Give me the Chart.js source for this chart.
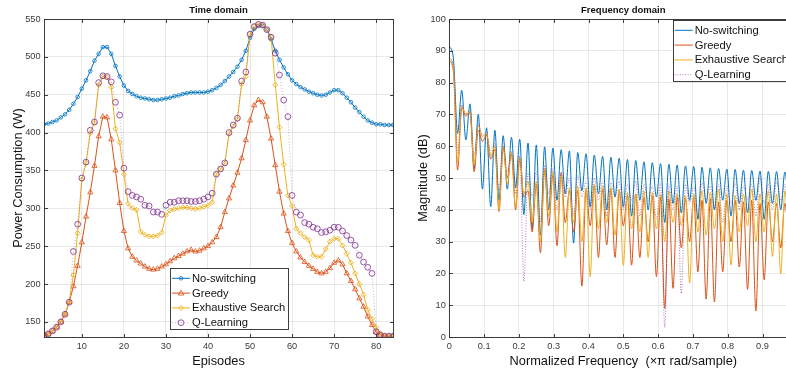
<!DOCTYPE html>
<html>
<head>
<meta charset="utf-8">
<script src="https://cdn.jsdelivr.net/npm/chart.js@4.4.1/dist/chart.umd.min.js"></script>
<style>
html,body{margin:0;padding:0;background:#fff;overflow:hidden;width:786px;height:373px;}
#wrap{position:relative;width:786px;height:373px;overflow:hidden;background:#fff;}
canvas{position:absolute;top:0;}
#c1{left:0;}
#c2{left:390px;}
</style>
</head>
<body>
<div id="wrap">
<canvas id="c1" width="400" height="373"></canvas>
<canvas id="c2" width="415" height="373"></canvas>
</div>
<script>
// ---------- Time domain data ----------
const episodes = [1,2,3,4,5,6,7,8,9,10,11,12,13,14,15,16,17,18,19,20,21,22,23,24,25,26,27,28,29,30,31,32,33,34,35,36,37,38,39,40,41,42,43,44,45,46,47,48,49,50,51,52,53,54,55,56,57,58,59,60,61,62,63,64,65,66,67,68,69,70,71,72,73,74,75,76,77,78,79,80,81,82,83,84];
const noSwitching = [411,412,414,416,420,424,430,438,447,458,
  469,481,495,504,513,513,504,488,474,462,
  455,451,448,446,445,444,443,443,444,445,
  446,448,449,451,452,453,453,453,453,454,
  456,459,463,468,474,480,487,496,508,525,
  537,541,541,536,523,508,496,486,477,469,
  464,460,457,454,452,450,449,450,453,456,
  456,452,446,440,433,427,421,416,413,411,
  411,410,410,410];
const greedy = [132,134,138,143,150,160,176,197,224,255,
  289,321,356,395,421,420,391,350,307,270,
  247,236,231,227,223,220,219,220,223,226,
  230,234,237,240,243,245,243,244,247,250,
  255,262,275,295,313,330,347,366,390,416,
  436,443,440,421,392,357,322,293,270,254,
  243,235,229,224,220,216,214,216,221,228,
  231,226,214,204,193,181,170,157,146,136,
  133,131,131,131];
const exhaustive = [132,134,138,143,150,160,176,212,267,338,
  360,399,413,463,474,473,460,405,387,345,
  306,300,298,269,265,263,263,264,268,291,
  297,299,300,301,301,300,299,300,302,304,
  308,345,352,359,398,408,418,464,474,530,
  540,543,542,536,526,463,407,358,317,303,
  273,267,262,258,238,236,236,246,256,260,
  260,251,240,228,214,200,186,166,154,143,
  135,132,131,131];
const qLearning = [132,134,138,143,150,160,176,243,279,340,
  361,403,414,466,475,474,467,440,423,353,
  322,317,315,312,304,303,295,295,292,304,
  308,308,310,310,310,309,309,310,312,315,
  320,345,352,360,400,410,419,468,480,530,
  540,543,542,536,526,505,476,443,421,317,
  295,291,281,279,275,273,268,269,271,275,
  275,270,264,258,251,238,229,222,214,137,
  132,131,131,131];
const episodeTicks = [10,20,30,40,50,60,70,80];
const powerTicks = [150,200,250,300,350,400,450,500,550];

// ---------- Frequency domain data ----------
const normFreq = [0,0.0119,0.0238,0.0357,0.0476,0.0595,0.0714,0.0833,0.0952,0.1071,
  0.1190,0.1310,0.1429,0.1548,0.1667,0.1786,0.1905,0.2024,0.2143,0.2262,
  0.2381,0.25,0.2619,0.2738,0.2857,0.2976,0.3095,0.3214,0.3333,0.3452,
  0.3571,0.3690,0.3810,0.3929,0.4048,0.4167,0.4286,0.4405,0.4524,0.4643,
  0.4762,0.4881,0.5,0.5119,0.5238,0.5357,0.5476,0.5595,0.5714,0.5833,
  0.5952,0.6071,0.6190,0.6310,0.6429,0.6548,0.6667,0.6786,0.6905,0.7024,
  0.7143,0.7262,0.7381,0.75,0.7619,0.7738,0.7857,0.7976,0.8095,0.8214,
  0.8333,0.8452,0.8571,0.8690,0.8810,0.8929,0.9048,0.9167,0.9286,0.9405,
  0.9524,0.9643,0.9762,0.9881,1];
const magNoSwitching = [91.5,87.5,64,77.6,62,73.3,53,70,46.5,65.8,
  41,65,43,63.3,46.5,62.8,47,62.2,38.5,61,
  34,60.4,32,59.8,40,59.4,43,58.9,45,58.5,
  29.5,58,46,57.6,41,57.2,45,56.8,40,56.5,
  44,56.2,41,55.8,38,55.5,43,55.1,40,54.8,
  44,54.5,36,54.3,42,54.1,39,53.8,43,53.6,
  37,53.4,42,53.2,40,53.0,43,52.8,38,52.7,
  42,52.5,39,52.4,43,52.2,37,52.1,42,52.0,
  40,51.9,43,51.8,41];
const magGreedy = [87,83.5,52.5,72,69.5,70.5,52,65,61.5,63.5,
  56,59,39.5,59.5,50,57.5,40,56,44,46,
  33,48,26.5,52.5,35,51,28.7,51.5,36,46,
  33,46,16,46.5,35,47.5,25,46.5,29,46.5,
  25,46,35,44.5,22.6,45,25,44,30,44.5,
  19,44,9,43.5,15.3,44,28,43.5,30,44,
  20.5,43,11.9,43.5,11,42.5,20.5,43,30,43,
  22,42.5,15,43,8.2,42,18,42.5,30,42,
  28,42,33,41.5,30];
const magExhaustive = [88,84,55,72.5,70,71,54,66.5,63,64,
  57,60,40,60,48,58,41,56.5,45,49,
  36,49,30,53,38,52,33,51,25,47,
  36,47.5,30,47,19,48,34,47.5,36,47,
  32,46.5,22.5,45.5,34,45,33,46,25,45.5,
  34,45,30,46,36,45,35,44.5,17,45,
  33,46,32,45.5,34,46.5,30,45,22.6,44.5,
  33,45,35,46.5,30,45,33,46,25.3,45,
  19.8,46,33,45,30];
const magQLearning = [88,84.5,58,73,70,71.5,57,67,63.5,64,
  58,61,46,60,52,58.5,45,57,17.5,52,
  44,52,36,54,45,53,40,52,44,50,
  38,51,44,49,40,50,43,49,38,48.5,
  44,49,40,48,43,49,38,48,43,47.5,
  37,48.5,3,48,40,47.5,13.7,48,42,47.5,
  38,48.5,43,47.5,40,48,36,47.5,42,48.5,
  40,47.5,43,48,38,50,42,48,40,49,
  43,48,40,47.5,42];
const freqTicks = [0,0.1,0.2,0.3,0.4,0.5,0.6,0.7,0.8,0.9,1];
const dbTicks = [0,10,20,30,40,50,60,70,80,90,100];
const seriesNames = ['No-switching','Greedy','Exhaustive Search','Q-Learning'];

// ---------- styling ----------
Chart.defaults.font.family = '"Liberation Sans", Arial, Helvetica, sans-serif';
Chart.defaults.color = '#262626';
const COL = {blue:'#0072BD', orange:'#D95319', yellow:'#EDB120', purple:'#7E2F8E'};
const GRID = 'rgba(0,0,0,0.085)';
const TICKCOL = '#3a3a3a';

function xy(xs, ys){ return xs.map((x,i)=>({x:x, y:ys[i]})); }

function drawMarker(ctx, style, r, x, y){
  ctx.beginPath();
  if (style === 'triangle'){
    ctx.moveTo(x, y - r);
    ctx.lineTo(x + r*0.95, y + r*0.65);
    ctx.lineTo(x - r*0.95, y + r*0.65);
    ctx.closePath();
  } else if (style === 'rectRot'){
    ctx.moveTo(x, y - r); ctx.lineTo(x + r, y); ctx.lineTo(x, y + r); ctx.lineTo(x - r, y); ctx.closePath();
  } else {
    ctx.arc(x, y, r, 0, Math.PI*2);
  }
  ctx.stroke();
}

const boxPlugin = {
  id: 'matBox',
  afterDatasetsDraw(chart){
    const {ctx, chartArea:a} = chart;
    const xs = chart.scales.x, ys = chart.scales.y;
    ctx.save();
    ctx.strokeStyle = '#2b2b2b';
    ctx.lineWidth = 0.9;
    const L = Math.round(a.left)+0.5, T = Math.round(a.top)+0.5, R = Math.round(a.right)+0.5, B = Math.round(a.bottom)+0.5;
    ctx.strokeRect(L, T, R-L, B-T);
    const tl = 3.5;
    ctx.beginPath();
    xs.ticks.forEach(t=>{
      const p = Math.round(xs.getPixelForValue(t.value))+0.5;
      ctx.moveTo(p, B); ctx.lineTo(p, B - tl);
      ctx.moveTo(p, T); ctx.lineTo(p, T + tl);
    });
    ys.ticks.forEach(t=>{
      const p = Math.round(ys.getPixelForValue(t.value))+0.5;
      ctx.moveTo(L, p); ctx.lineTo(L + tl, p);
      ctx.moveTo(R, p); ctx.lineTo(R - tl, p);
    });
    ctx.stroke();
    ctx.restore();
  }
};

const legendPlugin = {
  id: 'boxLegend',
  afterDraw(chart, args, o){
    if (!o || !o.show) return;
    const ctx = chart.ctx;
    ctx.save();
    ctx.fillStyle = '#ffffff';
    ctx.fillRect(o.x, o.y, o.w, o.h);
    ctx.strokeStyle = '#2b2b2b';
    ctx.lineWidth = 0.9;
    ctx.strokeRect(Math.round(o.x)+0.5, Math.round(o.y)+0.5, Math.round(o.w), Math.round(o.h));
    ctx.font = '11.2px "Liberation Sans", Arial, sans-serif';
    ctx.textBaseline = 'middle';
    ctx.textAlign = 'left';
    chart.data.datasets.forEach((ds, i)=>{
      const cy = o.y + o.first + i*o.step;
      const x0 = o.x + 2, x1 = o.x + 20;
      ctx.save();
      ctx.strokeStyle = ds.borderColor;
      ctx.lineWidth = ds.borderWidth;
      ctx.setLineDash(ds.borderDash || []);
      ctx.beginPath(); ctx.moveTo(x0, cy); ctx.lineTo(x1, cy); ctx.stroke();
      ctx.restore();
      if (o.markers && ds.pointRadius > 0){
        ctx.save();
        ctx.setLineDash([]);
        ctx.strokeStyle = ds.pointBorderColor;
        ctx.lineWidth = ds.pointBorderWidth;
        drawMarker(ctx, ds.pointStyle, ds.pointRadius, (x0+x1)/2, cy);
        ctx.restore();
      }
      ctx.fillStyle = '#111';
      ctx.fillText(ds.label, o.x + 22, cy + 0.5);
    });
    ctx.restore();
  }
};

function scaleX(min, max, ticks, title, cb){
  return {
    type:'linear', min:min, max:max,
    afterBuildTicks: s => { s.ticks = ticks.map(v=>({value:v})); },
    afterFit: s => { s.height = 36; },
    grid:{color:GRID, lineWidth:1, drawTicks:false},
    border:{display:false},
    ticks:{padding:3.5, font:{size:9.2}, color:TICKCOL, maxRotation:0, autoSkip:false, callback: cb},
    title:{display:true, text:title, font:{size:12.8}, color:'#111', padding:{top:0, bottom:4}}
  };
}
function scaleY(min, max, ticks, title, width, tpad){
  return {
    type:'linear', min:min, max:max,
    afterBuildTicks: s => { s.ticks = ticks.map(v=>({value:v})); },
    afterFit: s => { s.width = width; },
    grid:{color:GRID, lineWidth:1, drawTicks:false},
    border:{display:false},
    ticks:{padding:3.5, font:{size:9.2}, color:TICKCOL, autoSkip:false},
    title:{display:true, text:title, font:{size:12.8}, color:'#111', padding:{top:tpad, bottom:0}}
  };
}

// ---------- Time domain chart ----------
new Chart(document.getElementById('c1'), {
  type:'line',
  data:{
    datasets:[
      {label:seriesNames[0], data:xy(episodes, noSwitching), borderColor:COL.blue, borderWidth:1,
       pointStyle:'circle', pointRadius:1.8, pointBorderWidth:0.8, pointBorderColor:COL.blue, pointBackgroundColor:'rgba(0,0,0,0)', tension:0, order:4},
      {label:seriesNames[1], data:xy(episodes, greedy), borderColor:COL.orange, borderWidth:1,
       pointStyle:'triangle', pointRadius:3, pointBorderWidth:0.8, pointBorderColor:COL.orange, pointBackgroundColor:'rgba(0,0,0,0)', tension:0, order:3},
      {label:seriesNames[2], data:xy(episodes, exhaustive), borderColor:COL.yellow, borderWidth:1,
       pointStyle:'rectRot', pointRadius:2.5, pointBorderWidth:0.9, pointBorderColor:COL.yellow, pointBackgroundColor:'rgba(0,0,0,0)', tension:0, order:2},
      {label:seriesNames[3], data:xy(episodes, qLearning), borderColor:'rgba(126,47,142,0.5)', borderWidth:0.8, borderDash:[1,2],
       pointStyle:'circle', pointRadius:2.9, pointBorderWidth:0.8, pointBorderColor:COL.purple, pointBackgroundColor:'rgba(0,0,0,0)', tension:0, order:1}
    ]
  },
  options:{
    responsive:false, animation:false, events:[],
    layout:{padding:{left:0, right:7, top:0, bottom:0}},
    scales:{
      x: scaleX(1, 84, episodeTicks, 'Episodes'),
      y: scaleY(130, 550, powerTicks, 'Power Consumption (W)', 44, 10.3)
    },
    plugins:{
      legend:{display:false}, tooltip:{enabled:false},
      title:{display:true, text:'Time domain', fullSize:false, color:'#111', font:{size:9.5, weight:'bold'}, padding:{top:4.3, bottom:3.3}},
      boxLegend:{show:true, markers:true, x:170, y:268, w:118, h:61, first:10.3, step:14.8}
    }
  },
  plugins:[boxPlugin, legendPlugin]
});

// ---------- Frequency domain chart ----------
const fmt = v => (v === 0 || v === 1) ? String(v) : v.toFixed(1);
new Chart(document.getElementById('c2'), {
  type:'line',
  data:{
    datasets:[
      {label:seriesNames[0], data:xy(normFreq, magNoSwitching), borderColor:COL.blue, borderWidth:1, pointRadius:0, cubicInterpolationMode:'monotone', order:4},
      {label:seriesNames[1], data:xy(normFreq, magGreedy), borderColor:COL.orange, borderWidth:1, pointRadius:0, cubicInterpolationMode:'monotone', order:3},
      {label:seriesNames[2], data:xy(normFreq, magExhaustive), borderColor:COL.yellow, borderWidth:1, pointRadius:0, cubicInterpolationMode:'monotone', order:2},
      {label:seriesNames[3], data:xy(normFreq, magQLearning), borderColor:'rgba(126,47,142,0.7)', borderWidth:0.9, borderDash:[1,1.6], pointRadius:0, cubicInterpolationMode:'monotone', order:1}
    ]
  },
  options:{
    responsive:false, animation:false, events:[],
    layout:{padding:{left:0, right:7.7, top:0, bottom:0}},
    scales:{
      x: scaleX(0, 1, freqTicks, 'Normalized Frequency  (\u00d7\u03c0 rad/sample)', fmt),
      y: scaleY(0, 100, dbTicks, 'Magnitude (dB)', 59.3, 26)
    },
    plugins:{
      legend:{display:false}, tooltip:{enabled:false},
      title:{display:true, text:'Frequency domain', fullSize:false, color:'#111', font:{size:9.5, weight:'bold'}, padding:{top:4.3, bottom:3.3}},
      boxLegend:{show:true, markers:false, x:282.7, y:20, w:118, h:61, first:10.3, step:14.8}
    }
  },
  plugins:[boxPlugin, legendPlugin]
});
</script>
</body>
</html>
